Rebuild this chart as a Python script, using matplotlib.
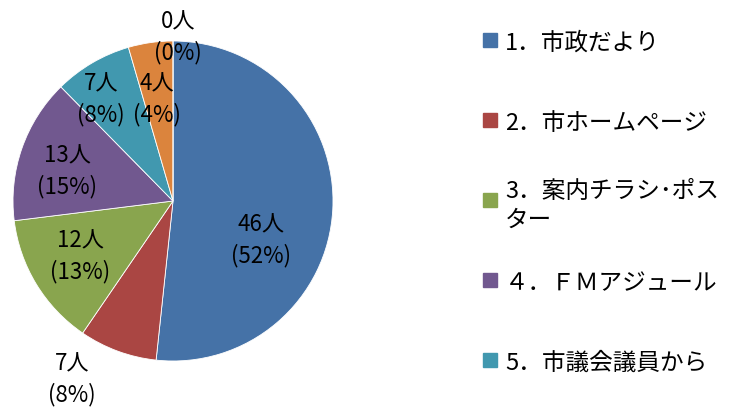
import numpy as np
import matplotlib
matplotlib.use("Agg")
import matplotlib.pyplot as plt
from matplotlib.patches import Rectangle

plt.rcParams['font.family'] = ['Noto Sans CJK JP', 'DejaVu Sans']

# data (clockwise from 12 o'clock)
categories = ["1．市政だより", "2．市ホームページ", "3．案内チラシ･ポス\nター",
              "４．ＦＭアジュール", "5．市議会議員から", "6．", "7．"]
counts = [46, 7, 12, 13, 7, 4, 0]
colors = ["#4572A7", "#AA4643", "#89A54E", "#71588F", "#4198AF", "#DB843D", "#93A9CF"]
n_legend = 5  # only the first five entries fit in the legend box

# label centres in pie units (radius = 1)
label_pos = [(0.55, -0.24), (-0.63, -1.11), (-0.58, -0.34), (-0.66, 0.19),
             (-0.45, 0.64), (-0.10, 0.64), (0.03, 1.03)]

W, H = 737, 410
fig = plt.figure(figsize=(W / 100, H / 100), dpi=100)

# pie: centre (173, 202) px, radius 160 px
cx, cy, r = 173, 202, 160
ax = fig.add_axes([(cx - r) / W, (H - cy - r) / H, 2 * r / W, 2 * r / H])
ax.pie(counts, colors=colors, startangle=90, counterclock=False,
       wedgeprops=dict(edgecolor="white", linewidth=0.6))
ax.set_xlim(-1, 1)
ax.set_ylim(-1, 1)
ax.set_aspect("auto")
ax.axis("off")

total = sum(counts)
for v, (x, y) in zip(counts, label_pos):
    ax.text(x, y, "{}人\n({:.0f}%)".format(v, v / total * 100),
            ha="center", va="center", fontsize=16, linespacing=1.4,
            color="black", clip_on=False)

# legend drawn by hand: squares aligned with the first text line
y0, step = 41, 80
for i in range(n_legend):
    y = y0 + i * step
    fig.patches.append(Rectangle((483 / W, (H - y - 7) / H), 14 / W, 14 / H,
                                 transform=fig.transFigure, color=colors[i]))
    fig.text(505 / W, (H - y) / H, categories[i], fontsize=17,
             ha="left", va="center_baseline", linespacing=1.3, color="black")

fig.savefig("out.png", dpi=100, facecolor="white")
